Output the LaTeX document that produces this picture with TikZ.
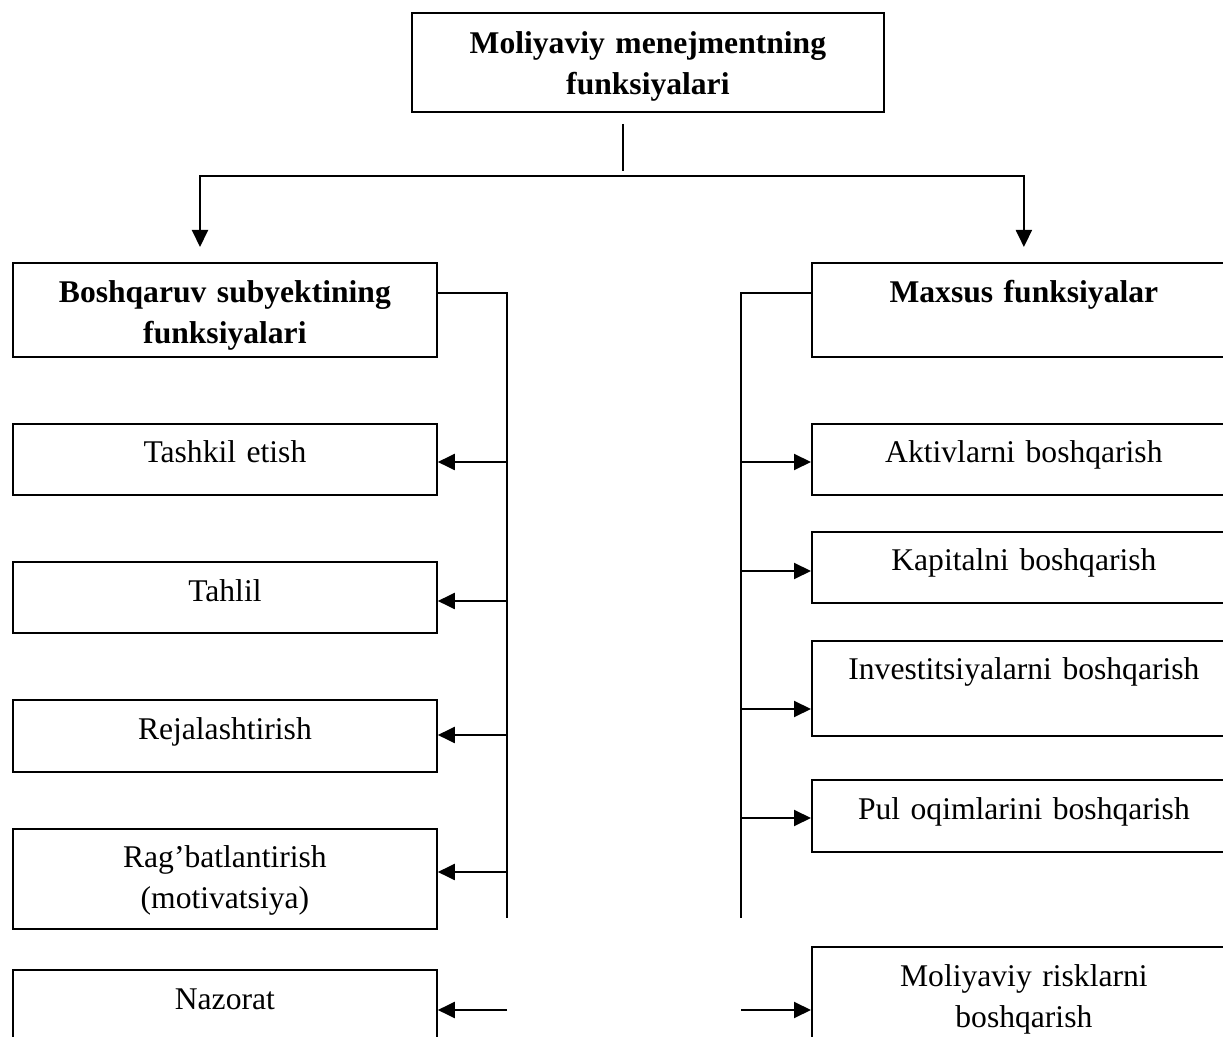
\documentclass[tikz,border=0pt]{standalone}
\usepackage{fontspec}
\setmainfont{Liberation Serif}
\usetikzlibrary{arrows.meta,calc}

\tikzset{
	funcbox/.style={draw, line width=0.9pt, anchor=north west, text width=212pt, align=center,
		inner xsep=0pt, inner ysep=0pt, font=\fontsize{15.8}{20.3}\selectfont},
	headbox/.style={funcbox, font=\fontsize{15.8}{20.3}\selectfont\bfseries},
	conn/.style={line width=1pt},
}

\begin{document}
\begin{tikzpicture}[x=0.5pt, y=-0.5pt, >={Triangle[length=8.5pt,width=8pt]}]
	\useasboundingbox (0,0) rectangle (1223,1037);
	\clip (0,0) rectangle (1223,1037);

	% Heads {mm, bsf, mf}
	\node [headbox, text width=236pt, text height=20.5pt, text depth=29pt] (mm) at (411,12) {Moliyaviy menejmentning\\funksiyalari};
	\node [headbox, text height=20pt, text depth=27pt] (bsf) at (12,262)  {Boshqaruv subyektining\\funksiyalari};
	\node [headbox, text height=20pt, text depth=27pt] (mf)  at (811,262) {Maxsus funksiyalar};

	% Left column
	\node [funcbox, text height=19.5pt, text depth=16pt]   (te) at (12,423) {Tashkil etish};
	\node [funcbox, text height=20pt,   text depth=15.5pt] (ta) at (12,561) {Tahlil};
	\node [funcbox, text height=20pt,   text depth=16pt]   (rj) at (12,699) {Rejalashtirish};
	\node [funcbox, text height=19.5pt, text depth=30.5pt] (rg) at (12,828) {Rag’batlantirish\\(motivatsiya)};
	\node [funcbox, text height=20pt,   text depth=20pt]   (nz) at (12,969) {Nazorat};

	% Right column
	\node [funcbox, text height=19.5pt, text depth=16pt]   (ak) at (811,423) {Aktivlarni boshqarish};
	\node [funcbox, text height=19.5pt, text depth=16pt]   (kp) at (811,531) {Kapitalni boshqarish};
	\node [funcbox, text height=19.5pt, text depth=28pt]   (iv) at (811,640) {Investitsiyalarni boshqarish};
	\node [funcbox, text height=20pt,   text depth=16pt]   (po) at (811,779) {Pul oqimlarini boshqarish};
	\node [funcbox, text height=20pt,   text depth=35pt]   (mr) at (811,946) {Moliyaviy risklarni\\boshqarish};

	% Paths
	\coordinate (split) at (623,176);
	\coordinate (lt) at (507,918);
	\coordinate (rt) at (741,918);

	\draw [conn]     ($(split |- mm.south)+(0,11)$) -- ($(split)+(0,-5)$);
	\draw [conn, ->] (split) -| ($(bsf.north west)+(188,-15)$);
	\draw [conn, ->] (split) -| ($(mf.north)+(0,-15)$);

	\draw [conn] ($(bsf.north east)+(0,31)$) -| (lt);
	\draw [conn] ($(mf.north west)+(0,31)$)  -| (rt);

	\foreach \n/\y in {te/462, ta/601, rj/735, rg/872, nz/1010}
		\draw [conn, ->] (lt |- 0,\y) -- (\n.east |- 0,\y);
	\foreach \n/\y in {ak/462, kp/571, iv/709, po/818, mr/1010}
		\draw [conn, ->] (rt |- 0,\y) -- (\n.west |- 0,\y);

\end{tikzpicture}
\end{document}
